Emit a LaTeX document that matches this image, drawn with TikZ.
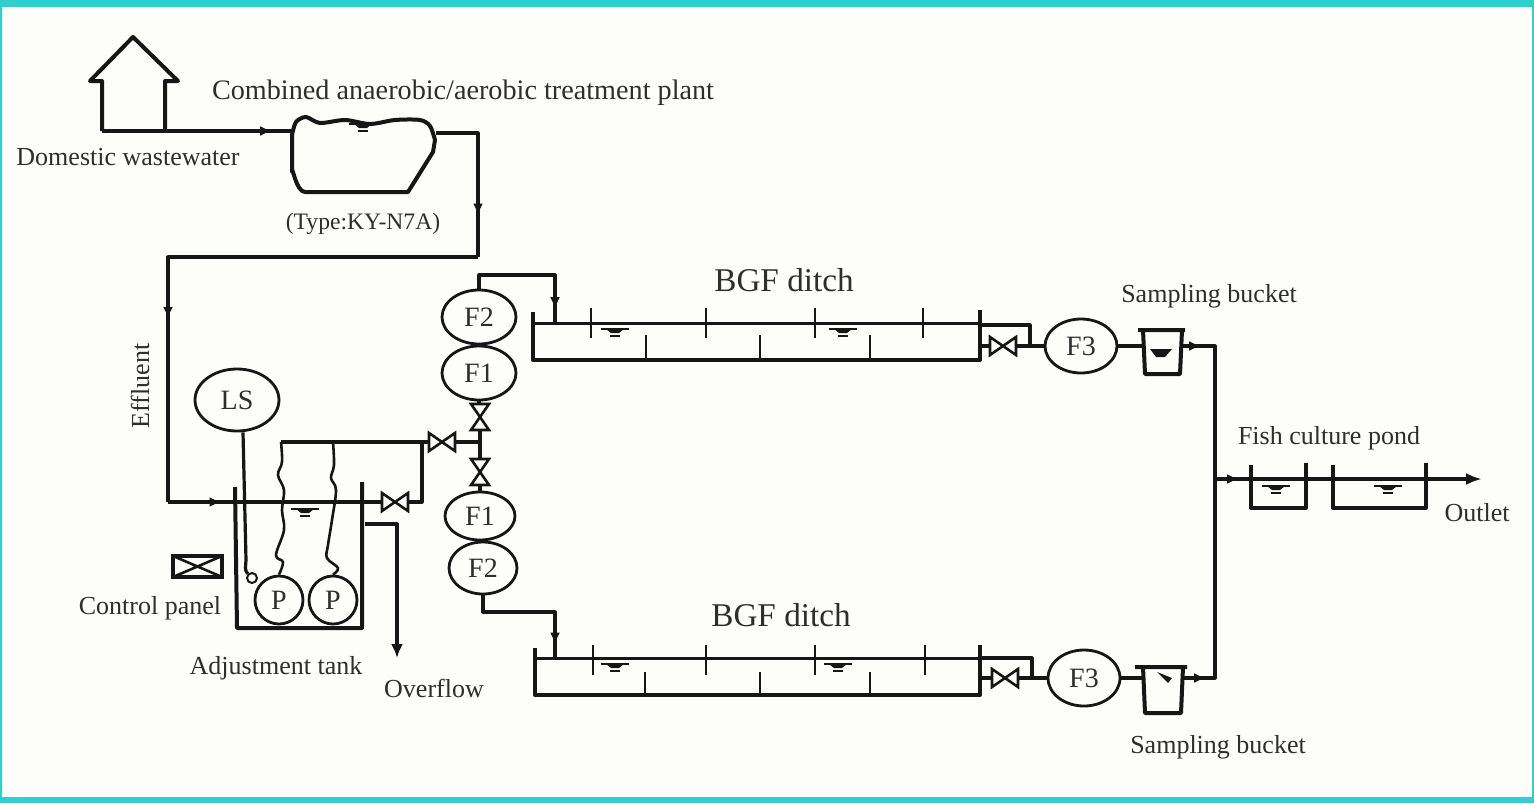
\documentclass[tikz,border=0pt]{standalone}
\usepackage{fontspec}
\setmainfont{Liberation Serif}
\usetikzlibrary{shapes.geometric,arrows.meta,decorations.markings}
\definecolor{frame}{HTML}{2FCFD0}
\definecolor{paper}{HTML}{FDFDF9}
\definecolor{ink}{HTML}{161616}
\definecolor{txt}{HTML}{2E2E2E}
\tikzset{
 pipe/.style={draw=ink,line width=1.6pt,line join=round},
 wall/.style={draw=ink,line width=2pt,line join=round},
 thin wall/.style={draw=ink,line width=1.3pt},
 ell/.style={ellipse,draw=ink,line width=1.4pt,inner sep=0pt,font=\fontsize{14}{16}\selectfont,text=txt},
 lab/.style={text=txt,inner sep=0pt,font=\fontsize{13}{15}\selectfont},
 bgf/.style={text=txt,inner sep=0pt,font=\fontsize{16.6}{18}\selectfont},
 midarrow/.style={postaction={decorate},decoration={markings,mark=at position #1 with {\arrow[ink]{Latex[length=6pt,width=5pt]}}}},
 valveh/.pic={\draw[thin wall,line join=miter] (-13,-9)--(13,9)--(13,-9)--(-13,9)--cycle;},
 valvev/.pic={\draw[thin wall,line join=miter] (-9,-13)--(9,13)--(-9,13)--(9,-13)--cycle;},
 water/.pic={\draw[ink,line width=1.1pt] (-14,0)--(14,0);\fill[ink] (-9,0)--(9,0)--(4,4)--(-4,4)--cycle;\draw[ink,line width=1pt] (-5,7)--(5,7);},
}
\begin{document}
\begin{tikzpicture}[x=0.5pt,y=-0.5pt]
\useasboundingbox (0,0) rectangle (1534,803);
\fill[frame] (0,0) rectangle (1534,803);
\fill[paper] (2,7) rectangle (1532,797);

% house and first tank
\coordinate (hl) at (102,131); \coordinate (hr) at (165,131);
\draw[wall] (hl)--(102,81)--(90,81)--(133,37)--(178,81)--(165,81)--(hr);
\coordinate (tin) at (291,131); \coordinate (tout) at (436,133);
\coordinate (tc1) at (478,133); \coordinate (tc2) at (478,257); \coordinate (tc3) at (168,257);
\coordinate (tc4) at (168,502);
\draw[wall] plot[smooth,tension=0.5] coordinates {(292,135)(296,122)(306,117)(320,123)(345,120)(370,124)(395,120)(420,120)(430,126)(435,140)}
  -- (433,152) -- (408,192) -- (305,192) to[out=180,in=90] (292,172) -- cycle;
\draw[pipe,midarrow=0.9] (hl)--(tin);
\draw[pipe,midarrow=0.75] (tout)--(tc1)--(tc2);
\draw[pipe,midarrow=0.67] (tc2)--(tc3)--(tc4);
\pic at (363,124) {water};

% adjustment tank
\draw[wall] (235,487)--(237,628)--(362,628)--(362,482);
\coordinate (vai) at (382,502); \coordinate (vao) at (408,502);
\pic at (395,502) {valveh};
\draw[pipe,midarrow=0.25] (tc4)--(vai);
\pic at (305,509) {water};
\node[ell,minimum width=42pt,minimum height=31pt] (ls) at (237,400) {LS};
\node[ell,minimum width=24pt,minimum height=24pt] (p1) at (279,600) {P};
\node[ell,minimum width=24pt,minimum height=24pt] (p2) at (333,600) {P};
\node[circle,draw=ink,line width=1pt,minimum size=5pt,inner sep=0pt] (fl) at (252,578) {};
\draw[pipe] (ls.south) ++(6,0) -- (246,560) to[out=-90,in=135] (fl.north west);
\coordinate (vtl) at (428,442); \coordinate (vtr) at (456,442);
\coordinate (hc1) at (281,442); \coordinate (hc2) at (333,442); \coordinate (hc3) at (422,442);
\draw[pipe] (hc1)--(vtl);
\draw[pipe] (vao)--(422,502)--(hc3);
\draw[pipe,line width=1.3pt] plot[smooth,tension=0.6] coordinates {(hc1)(282,462)(278,475)(284,490)(282,510)(284,530)(276,555)(283,562)(p1.north)};
\draw[pipe,line width=1.3pt] plot[smooth,tension=0.6] coordinates {(hc2)(334,465)(331,478)(336,490)(332,520)(328,545)(327,558)(338,568)(p2.north)};
\pic at (442,442) {valveh};
\coordinate (tee) at (480,442);
\draw[pipe] (vtr)--(tee);

% overflow
\coordinate (ov1) at (365,524); \coordinate (ov2) at (397,524); \coordinate (ov3) at (397,658);
\draw[pipe,-{Latex[length=7pt,width=6pt]}] (ov1)--(ov2)--(ov3);

% control panel
\draw[thin wall,line width=1.8pt] (173,556) rectangle (222,577);
\draw[thin wall] (173,556)--(222,577) (173,577)--(222,556);

% filters
\node[ell,minimum width=37pt,minimum height=27pt] (f2a) at (479,317) {F2};
\node[ell,minimum width=37pt,minimum height=27pt] (f1a) at (479,373) {F1};
\node[ell,minimum width=35pt,minimum height=24pt] (f1b) at (480,516) {F1};
\node[ell,minimum width=34pt,minimum height=26pt] (f2b) at (483,568) {F2};
\pic at (480,417) {valvev};
\pic at (480,472) {valvev};
\coordinate (vua) at (480,430); \coordinate (vla) at (480,459);
\draw[pipe] (vua)--(tee)--(vla);
\draw[pipe] (480,485) -- (f1b.north);
\draw[pipe] (f1a.south) -- (479,404);

% first ditch
\coordinate (d1a) at (555,323); \coordinate (d2a) at (555,658);
\draw[pipe,midarrow=0.9] (f2a.north) -- (479,275) -- (555,275) -- (d1a);
\draw[pipe,midarrow=0.9] (f2b.south) -- (483,612) -- (555,612) -- (d2a);
\draw[wall] (533,312)--(533,360)--(980,360)--(980,310);
\draw[thin wall,line width=1.5pt] (533,323)--(980,323);
\foreach \x in {591,706,815,923} \draw[thin wall] (\x,308)--(\x,338);
\foreach \x in {646,760,870} \draw[thin wall] (\x,335)--(\x,360);
\pic at (615,329) {water}; \pic at (843,329) {water};

\draw[wall] (535,648)--(535,695)--(980,695)--(980,645);
\draw[thin wall,line width=1.5pt] (535,658)--(980,658);
\foreach \x in {593,706,815,925} \draw[thin wall] (\x,645)--(\x,675);
\foreach \x in {645,760,870} \draw[thin wall] (\x,672)--(\x,695);
\pic at (615,664) {water}; \pic at (838,664) {water};

% outflow groups
\node[ell,minimum width=36pt,minimum height=27pt] (f3a) at (1081,346) {F3};
\node[ell,minimum width=36pt,minimum height=28pt] (f3b) at (1084,678) {F3};
\pic at (1003,346) {valveh};
\pic at (1005,678) {valveh};
\coordinate (v3a) at (1016,346); \coordinate (v3b) at (1018,678);
\draw[pipe] (980,346)--(990,346);
\draw[pipe] (980,678)--(992,678);
\draw[pipe] (980,325)--(1030,325)--(1030,346);
\draw[pipe] (980,658)--(1032,658)--(1032,678);
\draw[pipe] (v3a)--(f3a.west);
\draw[pipe] (v3b)--(f3b.west);

% sampling buckets
\coordinate (ba) at (1143,346); \coordinate (bb) at (1143,678);
\draw[wall] (1138,330)--(1185,330) (1143,330)--(1145,374)--(1180,374)--(1182,330);
\draw[wall] (1135,667)--(1187,667) (1143,667)--(1145,713)--(1181,713)--(1183,667);
\draw[pipe] (f3a.east)--(ba);
\draw[pipe] (f3b.east)--(bb);
\fill[ink] (1150,349)--(1172,349)--(1165,357)--(1156,357)--cycle;
\fill[ink] (1157,672)--(1172,678)--(1168,683)--cycle;
\coordinate (ca) at (1181,346); \coordinate (cb) at (1183,678);
\coordinate (m1) at (1215,346); \coordinate (m2) at (1215,678); \coordinate (mj) at (1215,479);
\draw[pipe,midarrow=0.12] (ca)--(m1)--(mj);
\draw[pipe,midarrow=0.1] (cb)--(m2)--(mj);

% ponds
\coordinate (out) at (1482,479);
\draw[pipe,midarrow=0.09,-{Latex[length=8pt,width=6pt]}] (mj)--(out);
\draw[wall] (1251,465)--(1251,508)--(1306,508)--(1306,463);
\draw[wall] (1333,465)--(1333,508)--(1426,508)--(1426,463);
\pic at (1276,486) {water}; \pic at (1388,486) {water};

% labels
\node[lab,font=\fontsize{14.1}{16}\selectfont] (l1) at (463,93) {Combined anaerobic/aerobic treatment plant};
\node[lab] (l2) at (128,157) {Domestic wastewater};
\node[lab,font=\fontsize{11.8}{13}\selectfont] (l3) at (363,224) {(Type:KY-N7A)};
\node[lab,rotate=90] (l4) at (140,386) {Effluent};
\node[bgf] (l5) at (784,280) {BGF ditch};
\node[bgf] (l6) at (781,615) {BGF ditch};
\node[lab] (l7) at (1209,296) {Sampling bucket};
\node[lab] (l8) at (1218,747) {Sampling bucket};
\node[lab] (l9) at (1329,438) {Fish culture pond};
\node[lab] (l10) at (1477,513) {Outlet};
\node[lab] (l11) at (150,608) {Control panel};
\node[lab] (l12) at (276,668) {Adjustment tank};
\node[lab] (l13) at (434,688) {Overflow};
\end{tikzpicture}
\end{document}
